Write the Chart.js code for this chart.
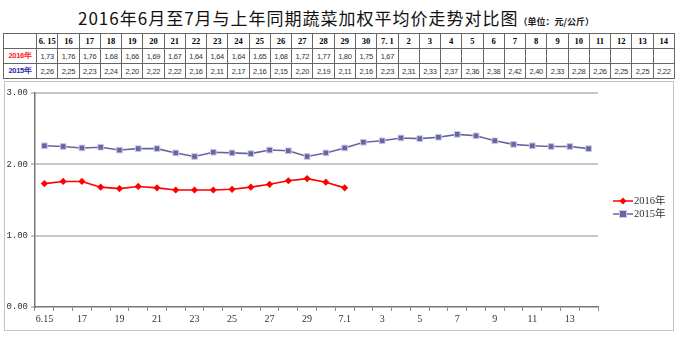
<!DOCTYPE html>
<html>
<head>
<meta charset="utf-8">
<script src="https://cdn.jsdelivr.net/npm/chart.js@4.4.0/dist/chart.umd.min.js"></script>
<style>
  html, body { margin: 0; padding: 0; background: #fff; }
  body { width: 680px; height: 337px; position: relative; overflow: hidden; }
  #title { position: absolute; left: 0; top: 6px; width: 672px; text-align: center; white-space: nowrap;
           font-family: "Noto Sans CJK SC", sans-serif; font-size: 17px; letter-spacing: 1px; color: #111; line-height: 24px; }
  #title small { font-size: 9px; font-weight: bold; letter-spacing: 0; color: #222; }
  #tbl { position: absolute; left: 3px; top: 33px; width: 672px; border-collapse: collapse; table-layout: fixed; }
  #tbl td { border: 1px solid #666; height: 14px; padding: 0; text-align: center; white-space: nowrap; overflow: hidden; }
  #tbl tr.head td { font-family: "Liberation Serif", serif; font-weight: bold; font-size: 8.5px; color: #000; }
  #tbl tr.val td { font-family: "Liberation Sans", sans-serif; font-size: 7.5px; color: #333; letter-spacing: -0.3px; }
  #tbl td.rl { font-family: "Noto Sans CJK SC", sans-serif; font-size: 8px; font-weight: bold; letter-spacing: 0; }
  #box { position: absolute; left: 4px; top: 81px; width: 668px; height: 248px; border: 1px solid #c4c4c4; }
</style>
</head>
<body>
<div id="title">2016年6月至7月与上年同期蔬菜加权平均价走势对比图<small>（单位：元/公斤）</small></div>
<table id="tbl"></table>
<div id="box"><canvas id="c" width="668" height="248"></canvas></div>
<script>
// Dates: June 15 - July 14
const categories = ['6.15','16','17','18','19','20','21','22','23','24','25','26','27','28','29','30',
                    '7.1','2','3','4','5','6','7','8','9','10','11','12','13','14'];
// Weighted average vegetable price, yuan/kg
const prices2016 = [1.73,1.76,1.76,1.68,1.66,1.69,1.67,1.64,1.64,1.64,1.65,1.68,1.72,1.77,1.80,1.75,1.67];
const prices2015 = [2.26,2.25,2.23,2.24,2.20,2.22,2.22,2.16,2.11,2.17,2.16,2.15,2.20,2.19,2.11,2.16,
                    2.23,2.31,2.33,2.37,2.36,2.38,2.42,2.40,2.33,2.28,2.26,2.25,2.25,2.22];
const yTicks = [0, 1, 2, 3];
const seriesNames = ['2016年', '2015年'];

const RED = '#ff0000';
const PURPLE = '#66669f';

// Data table above the chart
(function buildTable() {
  const t = document.getElementById('tbl');
  const cols = '<colgroup><col style="width:33px">' + categories.map(() => '<col>').join('') + '</colgroup>';
  let h = '<tr class="head"><td></td>' + categories.map(c => '<td>' + c.replace('.', '. ') + '</td>').join('') + '</tr>';
  const fmt = v => (v === undefined ? '' : v.toFixed(2).replace('.', ','));
  let r1 = '<tr class="val"><td class="rl" style="color:#ff2020">' + seriesNames[0] + '</td>' +
           categories.map((c, i) => '<td>' + fmt(prices2016[i]) + '</td>').join('') + '</tr>';
  let r2 = '<tr class="val"><td class="rl" style="color:#2a2aa8">' + seriesNames[1] + '</td>' +
           categories.map((c, i) => '<td>' + fmt(prices2015[i]) + '</td>').join('') + '</tr>';
  t.innerHTML = cols + h + r1 + r2;
})();

// Legend swatch: short line with the series marker
function swatch(color, shape, border) {
  const cv = document.createElement('canvas');
  cv.width = 20; cv.height = 10;
  const g = cv.getContext('2d');
  g.strokeStyle = color; g.lineWidth = 1.5;
  g.beginPath(); g.moveTo(0, 5); g.lineTo(20, 5); g.stroke();
  g.fillStyle = color;
  if (shape === 'diamond') {
    g.beginPath(); g.moveTo(10, 1.5); g.lineTo(13.5, 5); g.lineTo(10, 8.5); g.lineTo(6.5, 5); g.closePath(); g.fill();
  } else {
    g.fillRect(6.5, 1.5, 7, 7);
    g.strokeStyle = border; g.lineWidth = 1; g.strokeRect(6.5, 1.5, 7, 7);
  }
  return cv;
}
const swatches = [swatch(RED, 'diamond'), swatch(PURPLE, 'square', '#c8c8e8')];

const legendPlugin = {
  id: 'sideLegend',
  afterDraw(chart) {
    const g = chart.ctx;
    g.save();
    g.font = '10.5px "Liberation Serif", "Noto Sans CJK SC", serif';
    g.fillStyle = '#333';
    g.textBaseline = 'middle';
    const ys = [119, 132];
    seriesNames.forEach((n, i) => {
      g.drawImage(swatches[i], 608, ys[i] - 5);
      g.fillText(n, 629, ys[i] + 0.5);
    });
    g.restore();
  }
};

new Chart(document.getElementById('c'), {
  type: 'line',
  data: {
    labels: categories,
    datasets: [
      { label: seriesNames[0], data: prices2016, borderColor: RED, backgroundColor: RED, borderWidth: 1.6,
        pointStyle: 'rectRot', pointRadius: 3.6, pointBorderWidth: 0, pointBackgroundColor: RED, tension: 0 },
      { label: seriesNames[1], data: prices2015, borderColor: PURPLE, backgroundColor: PURPLE, borderWidth: 1.6,
        pointStyle: 'rect', pointRadius: 4, pointBorderWidth: 1, pointBorderColor: '#c8c8e8',
        pointBackgroundColor: PURPLE, tension: 0 }
    ]
  },
  options: {
    responsive: false,
    animation: false,
    layout: { padding: { top: 11, right: 75, left: 0, bottom: 0 } },
    plugins: { legend: { display: false }, tooltip: { enabled: false }, title: { display: false } },
    scales: {
      x: {
        type: 'category',
        offset: true,
        grid: { display: true, offset: true, drawOnChartArea: false, drawTicks: true, tickLength: 4,
                color: '#888', tickColor: '#888' },
        border: { display: true, color: '#777', width: 1.5 },
        ticks: {
          autoSkip: false, maxRotation: 0, padding: 2, color: '#333',
          font: { family: '"Liberation Serif", serif', size: 10 },
          callback: (v, i) => (i % 2 === 0 ? categories[i] : '')
        },
        afterFit: s => { s.height = 23; }
      },
      y: {
        min: 0, max: 3,
        afterBuildTicks: s => { s.ticks = yTicks.map(v => ({ value: v })); },
        grid: { color: c => (c.tick && c.tick.value === 0 ? 'rgba(0,0,0,0)' : '#c6c6c6'), lineWidth: 2,
                tickLength: 4, tickColor: '#888', tickWidth: 1 },
        border: { display: true, color: '#777', width: 1.5 },
        ticks: { color: '#333', padding: 3, font: { family: '"Liberation Mono", monospace', size: 9 },
                 callback: v => Number(v).toFixed(2) },
        afterFit: s => { s.width = 30; }
      }
    }
  },
  plugins: [legendPlugin]
});
</script>
</body>
</html>
